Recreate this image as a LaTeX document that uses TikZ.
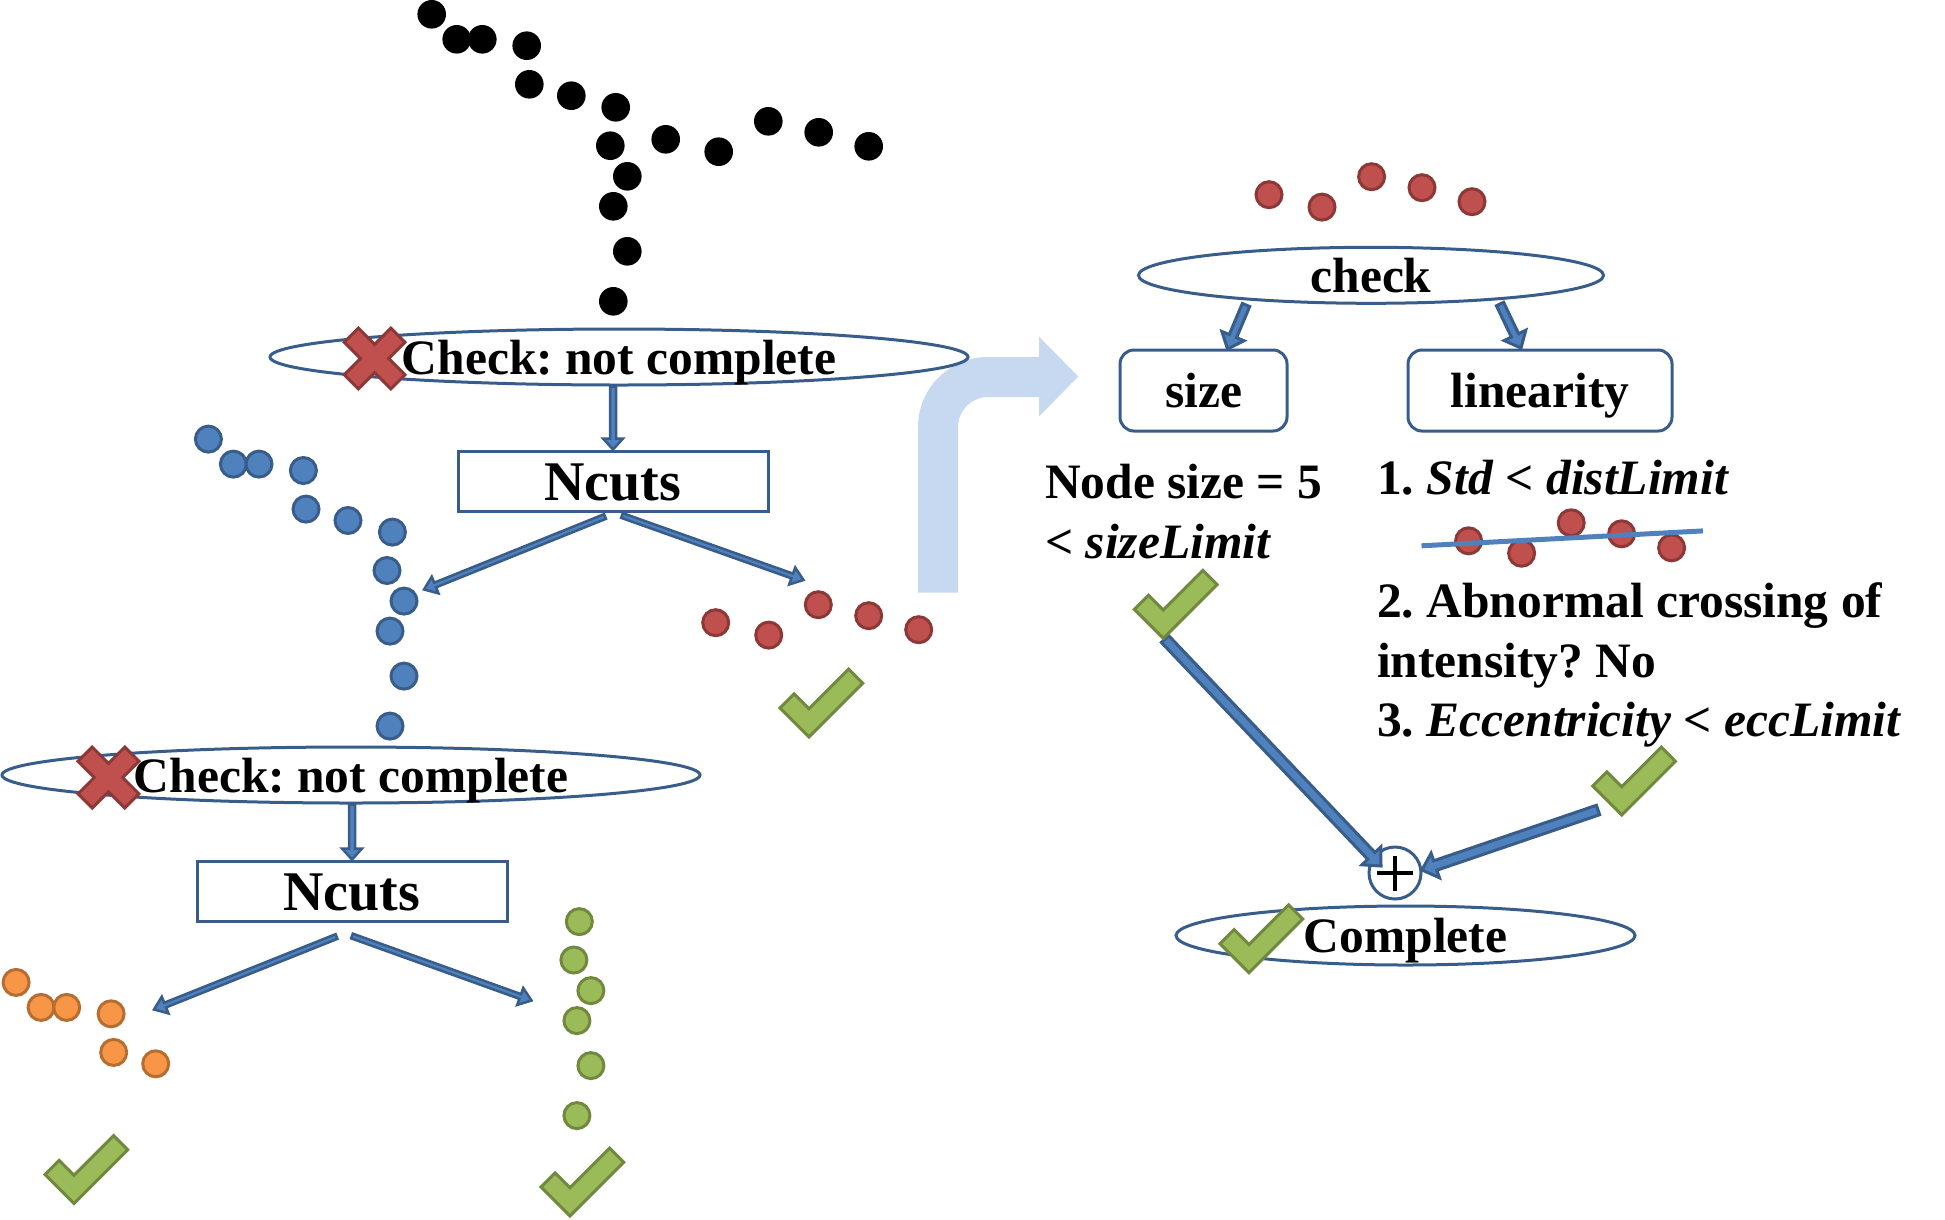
\documentclass[tikz,border=0pt]{standalone}
\usepackage{fontspec}
\setmainfont{Liberation Serif}
\usetikzlibrary{shapes.geometric,calc}
\definecolor{outl}{HTML}{385D8A}
\definecolor{afill}{HTML}{4F81BD}
\definecolor{redf}{HTML}{C0504D}
\definecolor{redd}{HTML}{8C3836}
\definecolor{orgf}{HTML}{F79646}
\definecolor{orgd}{HTML}{B66D31}
\definecolor{grnf}{HTML}{9BBB59}
\definecolor{grnd}{HTML}{71893F}
\definecolor{lblue}{HTML}{C6D9F1}
\frenchspacing
\newcommand{\blockarrow}[6][]{%
  \coordinate (bahead) at ($(#3)!#6!(#2)$);
  \draw[#1] ($(#2)!#4!90:(#3)$) -- ($(bahead)!#4!90:(#3)$) -- ($(bahead)!#5!90:(#3)$) -- (#3) -- ($(bahead)!#5!-90:(#3)$) -- ($(bahead)!#4!-90:(#3)$) -- ($(#2)!#4!-90:(#3)$) -- cycle;}
\def\PA{431.7/14.3, 456.7/39.3, 482.3/39.3, 526.7/45.7, 529.3/84.3, 571.3/95.7}
\def\PB{615.7/107.3, 610.3/145.7, 627.3/176.3, 613.3/206.3, 627.3/251.3, 613.3/301.3}
\def\PR{665.7/139.3, 718.7/151.7, 768.3/121.3, 818.7/132.3, 868.7/146.3}
\begin{document}
\begin{tikzpicture}[x=1pt,y=-1pt,
  txt/.style={font=\fontsize{49.5}{59}\selectfont\bfseries, inner sep=0pt},
  oval/.style={ellipse, draw=outl, line width=3pt, txt, text height=34pt, text depth=0pt},
  ncut/.style={rectangle, draw=outl, line width=3pt, minimum width=310pt, minimum height=60pt, font=\fontsize{56}{60}\selectfont\bfseries, text height=38pt, text depth=0pt, inner sep=0pt},
  rbox/.style={rectangle, rounded corners=14pt, draw=outl, line width=3pt, minimum height=81pt, txt, text height=34pt, text depth=0pt},
  thinarr/.style={fill=afill, draw=outl, line width=2.5pt, line join=miter},
  bigarr/.style={fill=afill, draw=outl, line width=3pt, line join=miter},
  blackdot/.style={fill=black},
  bluedot/.style={draw=outl, fill=afill, line width=3pt},
  reddot/.style={draw=redd, fill=redf, line width=3pt},
  orgdot/.style={draw=orgd, fill=orgf, line width=3pt},
  grndot/.style={draw=grnd, fill=grnf, line width=3pt},
  gcheck/.pic={\draw[fill=grnf, draw=grnd, line width=3pt, line join=miter] (0,0) -- (-29,-29) -- (-14.9,-43.1) -- (0,-28.3) -- (39.6,-67.9) -- (53.7,-53.7) -- cycle;},
  redx/.pic={\draw[fill=redf, draw=redd, line width=3pt, line join=miter] (14.14,0) -- (30.4,16.26) -- (16.26,30.4) -- (0,14.14) -- (-16.26,30.4) -- (-30.4,16.26) -- (-14.14,0) -- (-30.4,-16.26) -- (-16.26,-30.4) -- (0,-14.14) -- (16.26,-30.4) -- (30.4,-16.26) -- cycle;}
]
\useasboundingbox (0,0) rectangle (1945,1219);

% light blue bent arrow
\fill[lblue] (918,592.7) -- (918,427) .. controls (918,388.3) and (949.3,357) .. (988,357) -- (1039,357) -- (1039,336.7) -- (1078.3,376.5) -- (1039,416.5) -- (1039,397) -- (988,397) .. controls (971.4,397) and (958,410.4) .. (958,427) -- (958,592.7) -- cycle;

% black dots
\foreach \x/\y in \PA {\fill[blackdot] (\x,\y) circle[radius=14.3pt];}
\foreach \x/\y in \PB {\fill[blackdot] (\x,\y) circle[radius=14.3pt];}
\foreach \x/\y in \PR {\fill[blackdot] (\x,\y) circle[radius=14.3pt];}

% blue dots
\begin{scope}[shift={(-223.3,424.8)}]
\foreach \x/\y in \PA {\draw[bluedot] (\x,\y) circle[radius=13pt];}
\foreach \x/\y in \PB {\draw[bluedot] (\x,\y) circle[radius=13pt];}
\end{scope}
% orange dots
\begin{scope}[shift={(-415.6,968.1)}]
\foreach \x/\y in \PA {\draw[orgdot] (\x,\y) circle[radius=13pt];}
\end{scope}
% green dots
\begin{scope}[shift={(-36.4,814.3)}]
\foreach \x/\y in \PB {\draw[grndot] (\x,\y) circle[radius=13pt];}
\end{scope}
% red dots
\begin{scope}[shift={(50,483.4)}]
\foreach \x/\y in \PR {\draw[reddot] (\x,\y) circle[radius=13pt];}
\end{scope}
\begin{scope}[shift={(603.3,55.4)}]
\foreach \x/\y in \PR {\draw[reddot] (\x,\y) circle[radius=13pt];}
\end{scope}
\begin{scope}[shift={(802.9,401.5)}]
\foreach \x/\y in \PR {\draw[reddot] (\x,\y) circle[radius=13pt];}
\end{scope}
\coordinate (fitA) at (1421.5,545.8);
\coordinate (fitB) at (1703,530.9);
\draw[afill, line width=5pt] (fitA) -- (fitB);

% left side nodes
\node[oval, minimum width=698pt, minimum height=56pt] (e1) at (619,357) {Check: not complete};
\node[ncut] (n1) at (613,481) {Ncuts};
\node[oval, minimum width=698pt, minimum height=56pt] (e2) at (351,775) {Check: not complete};
\node[ncut] (n2) at (352,891) {Ncuts};
\pic at (374.7,358.5) {redx};
\pic at (108.5,777.5) {redx};

% left arrows
\coordinate (v1s) at (e1.south -| n1.north);
\coordinate (v1e) at (n1.north);
\blockarrow[thinarr]{v1s}{v1e}{3pt}{10pt}{11pt}
\coordinate (v2s) at (e2.south -| n2.north);
\coordinate (v2e) at (n2.north);
\blockarrow[thinarr]{v2s}{v2e}{3pt}{10pt}{11pt}
\coordinate (n1ls) at (605,516.5);
\coordinate (n1le) at (424,589.5);
\coordinate (n1rs) at (622,515.5);
\coordinate (n1re) at (803.5,580);
\blockarrow[thinarr]{n1ls}{n1le}{2.5pt}{9pt}{12pt}
\blockarrow[thinarr]{n1rs}{n1re}{2.5pt}{9pt}{12pt}
\coordinate (n2ls) at (336.5,936.5);
\coordinate (n2le) at (154,1009.5);
\coordinate (n2rs) at (352,936);
\coordinate (n2re) at (531.5,1000.5);
\blockarrow[thinarr]{n2ls}{n2le}{2.5pt}{9pt}{12pt}
\blockarrow[thinarr]{n2rs}{n2re}{2.5pt}{9pt}{12pt}

% checks left
\pic at (809,737) {gcheck};
\pic at (74,1203.5) {gcheck};
\pic at (570,1216) {gcheck};

% right side nodes
\node[oval, minimum width=465pt, minimum height=56pt] (e3) at (1371,275.3) {check};
\node[rbox, minimum width=167pt] (sz) at (1203.5,390.5) {size};
\node[rbox, minimum width=264pt] (lin) at (1540,390.5) {linearity};
\coordinate (c1s) at (1246,305);
\coordinate (c1e) at (1227.5,349);
\coordinate (c2s) at (1500,304);
\coordinate (c2e) at (1521,348);
\blockarrow[bigarr]{c1s}{c1e}{4pt}{12pt}{14pt}
\blockarrow[bigarr]{c2s}{c2e}{4pt}{12pt}{14pt}

\node[txt, anchor=base west] (t1) at (1045,498.5) {Node size = 5};
\node[txt, anchor=base west] (t2) at (1045,558) {\textless{} \textit{sizeLimit}};
\node[txt, anchor=base west] (l1) at (1377,494.5) {1. \textit{Std} \textless{} \textit{distLimit}};
\node[txt, anchor=base west] (l2) at (1377,617) {2. Abnormal crossing of};
\node[txt, anchor=base west] (l3) at (1377,677.5) {intensity? No};
\node[txt, anchor=base west] (l4) at (1377,736.5) {3. \textit{Eccentricity} \textless{} \textit{eccLimit}};

\node[oval, minimum width=459pt, minimum height=59pt] (e4) at (1405.5,935.5) {Complete};
\node[circle, draw=outl, fill=white, line width=3pt, minimum size=52pt, inner sep=0pt] (plus) at (1395,873) {};
\draw[line width=4pt] ($(plus.center)+(-18,0)$) -- ($(plus.center)+(18,0)$);
\draw[line width=4pt] ($(plus.center)+(0,-17.5)$) -- ($(plus.center)+(0,17.5)$);

\coordinate (b1s) at (1165,639);
\coordinate (b1e) at (1381,866);
\coordinate (b2s) at (1598,810);
\coordinate (b2e) at (1422,870);
\blockarrow[bigarr]{b1s}{b1e}{5pt}{13pt}{14pt}
\blockarrow[bigarr]{b2s}{b2e}{5pt}{13pt}{14pt}

\pic at (1163.3,638.3) {gcheck};
\pic at (1621.7,815) {gcheck};
\pic at (1249,972.7) {gcheck};
\end{tikzpicture}
\end{document}
